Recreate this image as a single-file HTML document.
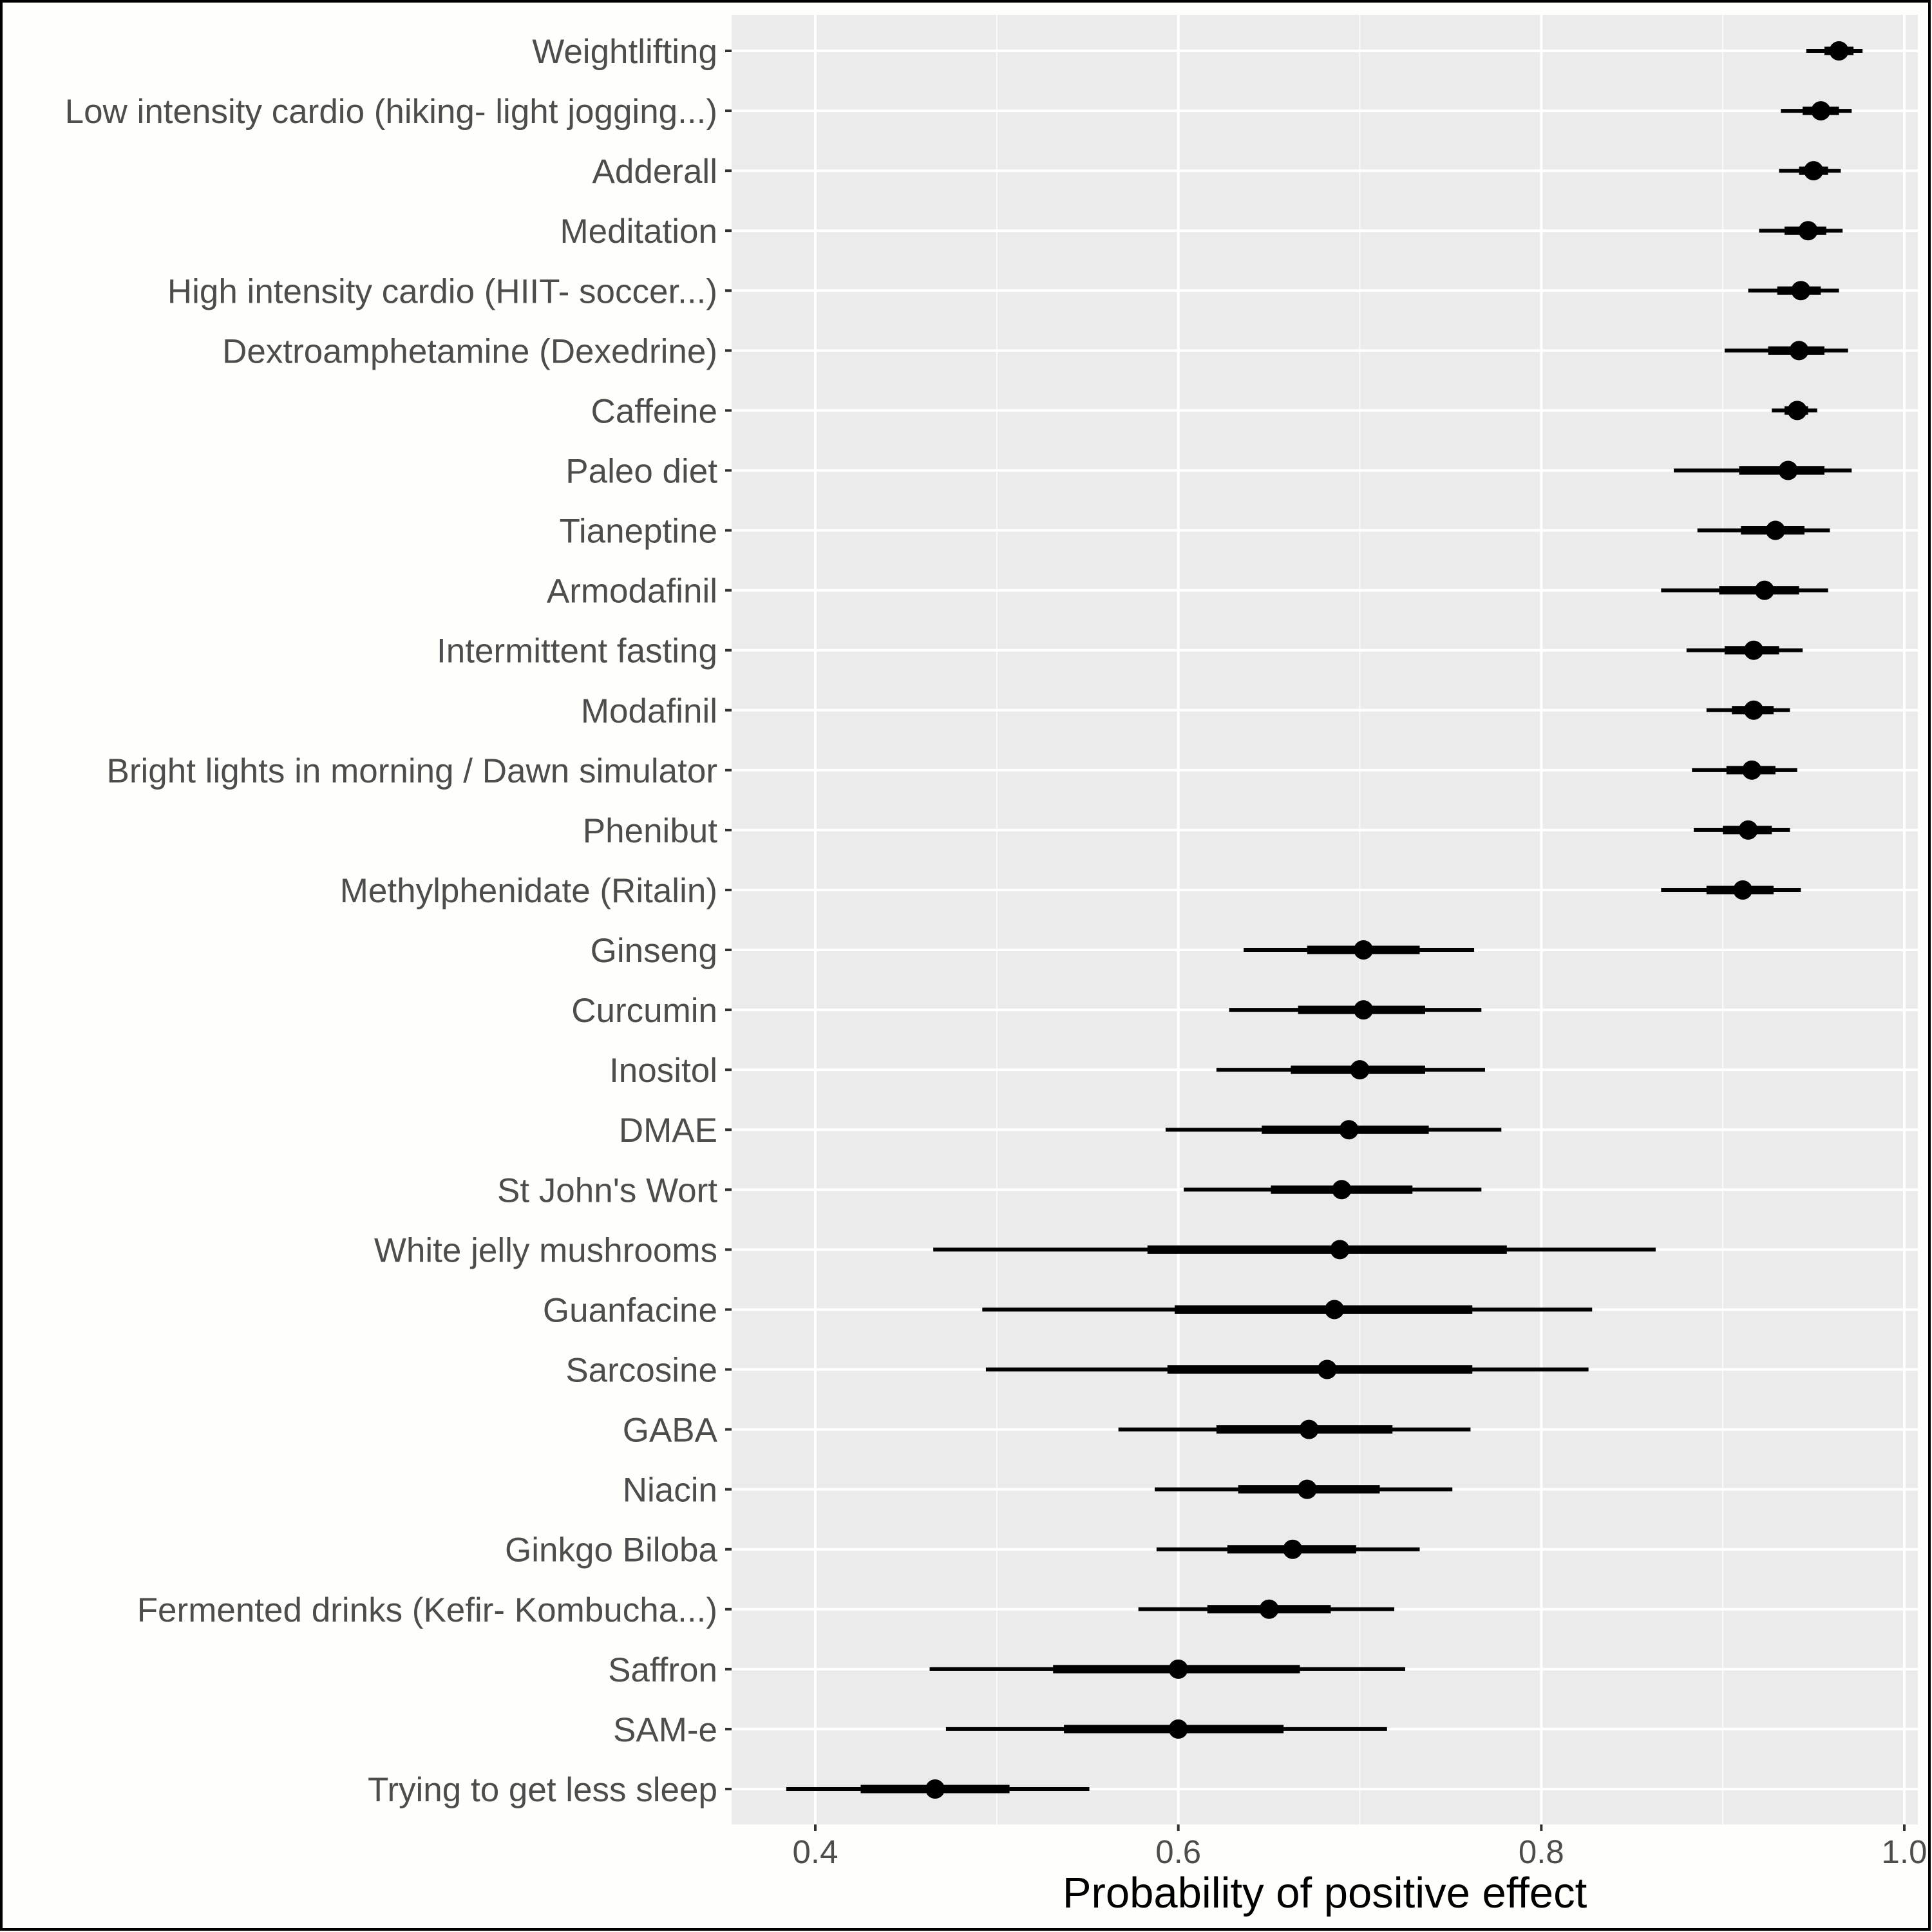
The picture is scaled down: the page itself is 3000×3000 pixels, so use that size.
<!DOCTYPE html>
<html><head><meta charset="utf-8"><style>
html,body{margin:0;padding:0;background:#FEFEFA;}
svg{display:block;font-family:"Liberation Sans",Arial,sans-serif;}
</style></head><body>
<svg id="chart" width="3000" height="3000" viewBox="0 0 3000 3000">
<rect x="0" y="0" width="3000" height="3000" fill="#FEFEFA"/>
<rect x="2" y="2" width="2994" height="2994" fill="none" stroke="#000" stroke-width="4"/>
<rect x="1136" y="23" width="1842" height="2810" fill="#EBEBEB"/>
<g id="grid"></g>
<g id="marks"></g>
<g id="ylabels"></g>
<g id="xlabels"></g>
<text x="2057" y="2962" text-anchor="middle" font-size="67" fill="#000">Probability of positive effect</text>
</svg>
<script>
const categories = ["Weightlifting","Low intensity cardio (hiking- light jogging...)","Adderall","Meditation","High intensity cardio (HIIT- soccer...)","Dextroamphetamine (Dexedrine)","Caffeine","Paleo diet","Tianeptine","Armodafinil","Intermittent fasting","Modafinil","Bright lights in morning / Dawn simulator","Phenibut","Methylphenidate (Ritalin)","Ginseng","Curcumin","Inositol","DMAE","St John's Wort","White jelly mushrooms","Guanfacine","Sarcosine","GABA","Niacin","Ginkgo Biloba","Fermented drinks (Kefir- Kombucha...)","Saffron","SAM-e","Trying to get less sleep"];
const medians = [0.964,0.954,0.950,0.947,0.943,0.942,0.941,0.936,0.929,0.923,0.917,0.917,0.916,0.914,0.911,0.702,0.702,0.700,0.694,0.690,0.689,0.686,0.682,0.672,0.671,0.663,0.650,0.600,0.600,0.466];
const innerLo = [0.956,0.944,0.942,0.934,0.930,0.925,0.934,0.909,0.910,0.898,0.901,0.905,0.902,0.900,0.891,0.671,0.666,0.662,0.646,0.651,0.583,0.598,0.594,0.621,0.633,0.627,0.616,0.531,0.537,0.425];
const innerHi = [0.972,0.964,0.958,0.957,0.954,0.956,0.947,0.956,0.945,0.942,0.931,0.928,0.929,0.927,0.928,0.733,0.736,0.736,0.738,0.729,0.781,0.762,0.762,0.718,0.711,0.698,0.684,0.667,0.658,0.507];
const outerLo = [0.946,0.932,0.931,0.920,0.914,0.901,0.927,0.873,0.886,0.866,0.880,0.891,0.883,0.884,0.866,0.636,0.628,0.621,0.593,0.603,0.465,0.492,0.494,0.567,0.587,0.588,0.578,0.463,0.472,0.384];
const outerHi = [0.977,0.971,0.965,0.966,0.964,0.969,0.952,0.971,0.959,0.958,0.944,0.937,0.941,0.937,0.943,0.763,0.767,0.769,0.778,0.767,0.863,0.828,0.826,0.761,0.751,0.733,0.719,0.725,0.715,0.551];
const xTicks = [0.4,0.6,0.8,1.0];
const xTickLabels = ["0.4","0.6","0.8","1.0"];
const xMinor = [0.5,0.7,0.9];

const NS="http://www.w3.org/2000/svg";
const PL=1136, PR=2978, PT=23, PB=2833;
function xs(v){return 1266+(v-0.4)*(2957-1266)/0.6;}
function ys(i){return 79+i*(2778-79)/(categories.length-1);}
function mk(tag,attrs,parent){const e=document.createElementNS(NS,tag);for(const k in attrs)e.setAttribute(k,attrs[k]);parent.appendChild(e);return e;}
const grid=document.getElementById('grid'),marks=document.getElementById('marks'),yl=document.getElementById('ylabels'),xl=document.getElementById('xlabels');
xMinor.forEach(v=>{const l=mk('line',{x1:xs(v),x2:xs(v),y1:PT,y2:PB,stroke:'#FAFAFA','stroke-width':2},grid);

});
xTicks.forEach((v,i)=>{const l=mk('line',{x1:xs(v),x2:xs(v),y1:PT,y2:PB,stroke:'#FFFFFF','stroke-width':4},grid);


const t=mk('line',{x1:xs(v),x2:xs(v),y1:PB,y2:PB+10,stroke:'#333','stroke-width':4},xl);


const tx=mk('text',{x:xs(v),y:2893,'text-anchor':'middle','font-size':51,fill:'#4D4D4D'},xl);
tx.textContent=xTickLabels[i];

});
categories.forEach((c,i)=>{const y=ys(i);
const g=mk('line',{x1:PL,x2:PR,y1:y,y2:y,stroke:'#FFFFFF','stroke-width':4},grid);


const t=mk('line',{x1:PL-10,x2:PL,y1:y,y2:y,stroke:'#333','stroke-width':4},yl);


const tx=mk('text',{x:1114,y:y+19,'text-anchor':'end','font-size':53,fill:'#4D4D4D'},yl);
tx.textContent=c;


const o=mk('line',{x1:xs(outerLo[i]),x2:xs(outerHi[i]),y1:y,y2:y,stroke:'#000','stroke-width':6},marks);


const inn=mk('line',{x1:xs(innerLo[i]),x2:xs(innerHi[i]),y1:y,y2:y,stroke:'#000','stroke-width':13},marks);


const p=mk('circle',{cx:xs(medians[i]),cy:y,r:15,fill:'#000'},marks);

});
</script>
</body></html>
